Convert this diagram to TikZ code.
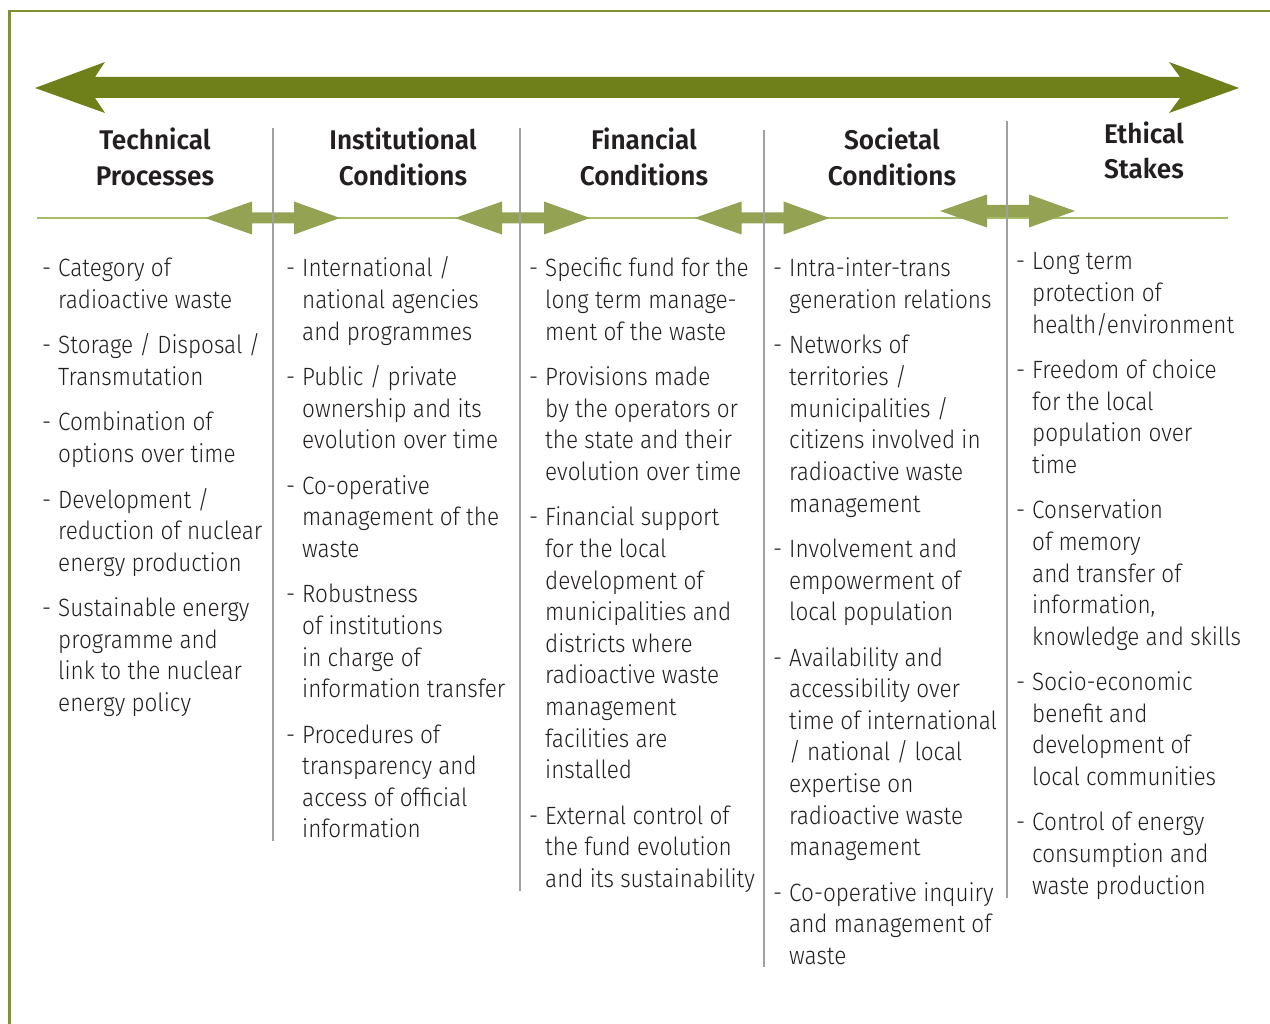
\documentclass[tikz,border=0pt]{standalone}
\usepackage{fontspec}
\setmainfont{Fira Sans}
\newfontfamily\bodyfont{Fira Sans}[UprightFont=* Light, FakeStretch=0.9]
\newfontfamily\headfont{Fira Sans}[UprightFont=* SemiBold, FakeStretch=0.97]

\definecolor{arrowdark}{RGB}{111,128,26}
\definecolor{arrowlight}{RGB}{147,162,83}
\definecolor{rulegreen}{RGB}{168,188,104}
\definecolor{framegreen}{RGB}{128,146,48}
\definecolor{sepgray}{RGB}{160,160,160}
\definecolor{inktext}{RGB}{35,31,32}

\tikzset{
  headtxt/.style={anchor=base, inner sep=0pt, text=inktext,
    font=\headfont\fontsize{27}{32}\selectfont},
  bodytxt/.style={anchor=base west, inner sep=0pt, text=inktext,
    font=\bodyfont\fontsize{25}{30}\selectfont},
  dashtxt/.style={bodytxt},
  sepline/.style={draw=sepgray, line width=1.3pt},
  hrule/.style={draw=rulegreen, line width=1.2pt},
}

% one bulleted entry: name, text x, first baseline y, list of lines
\newcommand\entry[4]{%
  \node[dashtxt] (#1) at (#2-16,#3) {-};
  \foreach \ln [count=\k from 0] in {#4}
    \node[bodytxt] (#1-\k) at (#2,#3+\k*31.6) {\ln};
}

% small double-headed arrow centred at (x,y) with shaft half thickness
\newcommand\dblarrow[3]{%
  \fill[arrowlight, shift={(#1,#2)}]
    (-67.5,0) -- (-20.5,-16.5) -- (-20.5,-#3) -- (21.5,-#3) -- (21.5,-16.5)
    -- (67.5,0) -- (21.5,16.5) -- (21.5,#3) -- (-20.5,#3) -- (-20.5,16.5) -- cycle;
}

\begin{document}
\begin{tikzpicture}[x=1pt,y=-1pt]
\useasboundingbox (0,0) rectangle (1270,1024);
\fill[white] (0,0) rectangle (1270,1024);

% frame
\draw[framegreen, line width=1.8pt] (8,11) -- (1270,11);
\draw[framegreen, line width=2.8pt] (9.4,10) -- (9.4,1024);

% main double arrow
\fill[arrowdark] (35,88) -- (105,62) -- (95,77) -- (1180,77) -- (1169,62)
  -- (1239,88) -- (1169,113) -- (1180,98) -- (95,98) -- (105,113) -- cycle;

% rule under the headings
\draw[hrule] (37,218) -- (1228,218);

% arrows between columns
\dblarrow{272.5}{218}{5.5}
\dblarrow{522.5}{218}{5.5}
\dblarrow{762}{218}{5.5}
\dblarrow{1007.5}{211}{6}

% column separators
\draw[sepline] (273,128) -- (273,841);
\draw[sepline] (520,128) -- (520,891);
\draw[sepline] (764,130) -- (764,967);
\draw[sepline] (1007,121) -- (1007,898);

% headings
\node[headtxt] (h1a) at (155,150) {Technical};
\node[headtxt] (h1b) at (155,186) {Processes};
\node[headtxt] (h2a) at (403,150) {Institutional};
\node[headtxt] (h2b) at (403,186) {Conditions};
\node[headtxt] (h3a) at (644,150) {Financial};
\node[headtxt] (h3b) at (644,186) {Conditions};
\node[headtxt] (h4a) at (892,150) {Societal};
\node[headtxt] (h4b) at (892,186) {Conditions};
\node[headtxt] (h5a) at (1144,144) {Ethical};
\node[headtxt] (h5b) at (1144,179) {Stakes};

% technical processes
\entry{ta}{58}{277}{Category of,radioactive waste}
\entry{tb}{58}{354}{Storage / Disposal /,Transmutation}
\entry{tc}{58}{431}{Combination of,options over time}
\entry{td}{58}{508}{Development /,reduction of nuclear,energy production}
\entry{te}{58}{616.6}{Sustainable energy,programme and,link to the nuclear,energy policy}

% institutional conditions
\entry{ia}{302}{277}{International /,national agencies,and programmes}
\entry{ib}{302}{385.6}{Public / private,ownership and its,evolution over time}
\entry{ic}{302}{494.2}{Co-operative,management of the,waste}
\entry{id}{302}{602.8}{Robustness,of institutions,in charge of,information transfer}
\entry{ie}{302}{743}{Procedures of,transparency and,access of official,information}

% financial conditions
\entry{fa}{545}{277}{Specific fund for the,long term manage-,ment of the waste}
\entry{fb}{545}{385.6}{Provisions made,by the operators or,the state and their,evolution over time}
\entry{fc}{545}{525.8}{Financial support,for the local,development of,municipalities and,districts where,radioactive waste,management,facilities are,installed}
\entry{fd}{545}{824}{External control of,the fund evolution,and its sustainability}

% societal conditions
\entry{sa}{789}{277}{Intra-inter-trans,generation relations}
\entry{sb}{789}{354}{Networks of,territories /,municipalities /,citizens involved in,radioactive waste,management}
\entry{sc}{789}{557.4}{Involvement and,empowerment of,local population}
\entry{sd}{789}{666}{Availability and,accessibility over,time of international,/ national / local,expertise on,radioactive waste,management}
\entry{se}{789}{901}{Co-operative inquiry,and management of,waste}

% ethical stakes
\entry{ea}{1032}{270}{Long term,protection of,health/environment}
\entry{eb}{1032}{378.6}{Freedom of choice,for the local,population over,time}
\entry{ec}{1032}{518.8}{Conservation,of memory,and transfer of,{information,},knowledge and skills}
\entry{ed}{1032}{690.6}{Socio-economic,benefit and,development of,local communities}
\entry{ee}{1032}{830.8}{Control of energy,consumption and,waste production}
\end{tikzpicture}
\end{document}
